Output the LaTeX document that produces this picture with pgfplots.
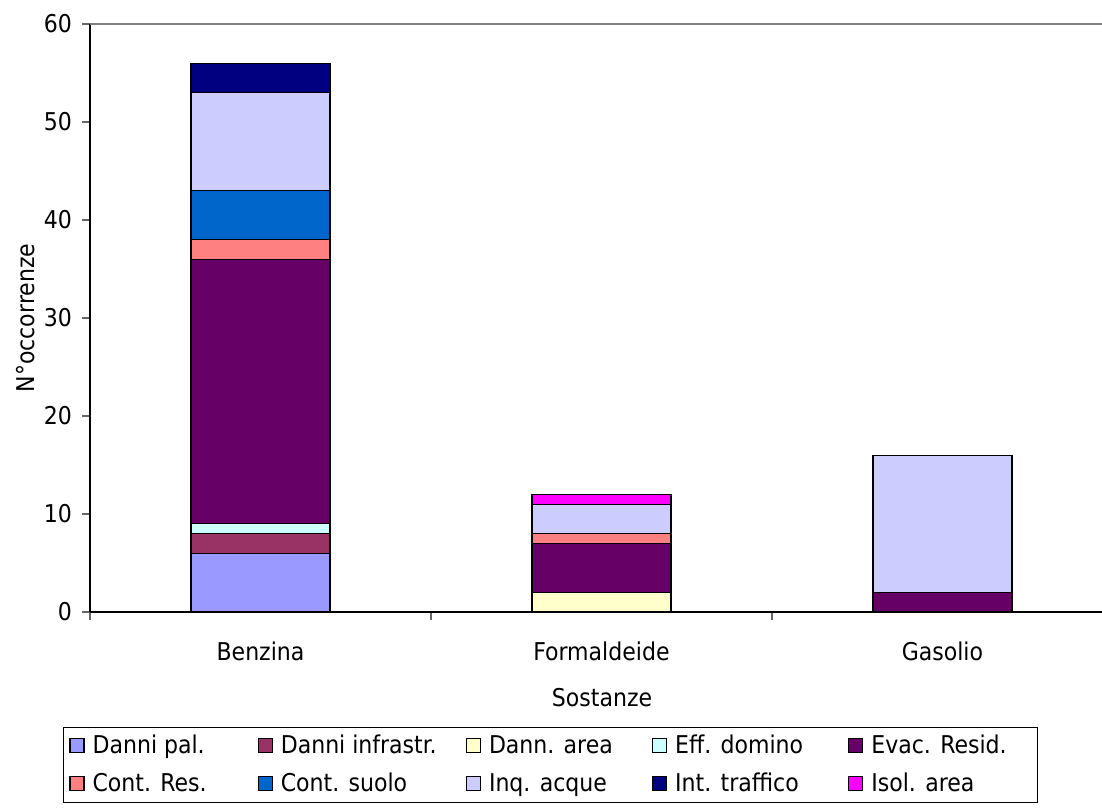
\documentclass[border=0pt]{standalone}
\usepackage{fontspec}
\setmainfont{DejaVu Sans Condensed}
\usepackage{pgfplots}
\pgfplotsset{compat=1.18}
\usepackage{pgfplotstable}

% Excel 2003 palette
\definecolor{cPal}{HTML}{9999FF}
\definecolor{cInfr}{HTML}{993366}
\definecolor{cArea}{HTML}{FFFFCC}
\definecolor{cDom}{HTML}{CCFFFF}
\definecolor{cEvac}{HTML}{660066}
\definecolor{cRes}{HTML}{FF8080}
\definecolor{cSuolo}{HTML}{0066CC}
\definecolor{cAcque}{HTML}{CCCCFF}
\definecolor{cTraff}{HTML}{000080}
\definecolor{cIsol}{HTML}{FF00FF}

% x: 0 Benzina, 1 Formaldeide, 2 Gasolio
\pgfplotstableread{
x pal infr area dom evac res suolo acque traff isol
0 6   2    0    1   27   2   5     10    3     0
1 0   0    2    0   5    1   0     3     0     1
2 0   0    0    0   2    0   0     14    0     0
}\occ

\begin{document}
\begin{tikzpicture}
\useasboundingbox (0,0) rectangle (1102bp,812bp);
\begin{axis}[
    at={(90bp,200bp)}, anchor=south west,
    scale only axis, width=1012bp, height=588bp,
    ybar stacked, bar width=139bp,
    xmin=-0.5, xmax=2.468, ymin=0, ymax=60,
    axis x line*=bottom, axis y line*=left,
    axis line style={-, black, line width=1.3bp},
    tick align=outside,
    major tick length=8bp,
    tick style={black!60, line width=1.2bp},
    ytick={0,10,...,60},
    xtick={-0.5,0.5,1.5}, xticklabels={},
    extra x ticks={0,1,2},
    extra x tick labels={Benzina,Formaldeide,Gasolio},
    extra x tick style={major tick length=0pt,
        xticklabel style={anchor=base, inner sep=0pt, yshift=-48bp}},
    extra y ticks={60}, extra y tick labels={},
    extra y tick style={grid=major, major tick length=0pt,
        major grid style={black!50, line width=1.4bp}},
    yticklabel style={anchor=east, inner sep=0pt, xshift=-10bp},
    /pgf/number format/assume math mode=true,
    font=\fontsize{24.5bp}{29bp}\selectfont,
    xlabel={Sostanze},
    xlabel style={at={(axis description cs:0.506,0)}, anchor=base, inner sep=0pt, yshift=-94bp},
    ylabel={N°occorrenze},
    ylabel style={at={(axis description cs:-0.0632,0.5)}, anchor=center, rotate=0},
    every axis plot post/.append style={
        legend image code/.code={
            \draw[##1, draw=black, line width=1.2bp] (0bp,1bp) rectangle (14bp,15bp);
            \path (22bp,0bp);}},
    legend columns=5,
    legend style={at={(axis description cs:0.9368,-0.1956)}, anchor=north east,
        draw=black, line width=1.2bp, inner xsep=6bp, inner ysep=8bp,
        column sep=0pt, row sep=17bp,
        nodes={inner sep=0pt, text height=18bp, text depth=3bp, anchor=base west},
        font=\fontsize{24.5bp}{29bp}\selectfont},
]
\addplot[fill=cPal, draw=black, line width=1.2bp] table[x=x, y=pal] {\occ};
\addlegendentry{\makebox[165bp][l]{Danni pal.}}
\addplot[fill=cInfr, draw=black, line width=1.2bp] table[x=x, y=infr] {\occ};
\addlegendentry{\makebox[185bp][l]{Danni infrastr.}}
\addplot[fill=cArea, draw=black, line width=1.2bp] table[x=x, y=area] {\occ};
\addlegendentry{\makebox[163bp][l]{Dann. area}}
\addplot[fill=cDom, draw=black, line width=1.2bp] table[x=x, y=dom] {\occ};
\addlegendentry{\makebox[173bp][l]{Eff. domino}}
\addplot[fill=cEvac, draw=black, line width=1.2bp] table[x=x, y=evac] {\occ};
\addlegendentry{\makebox[160bp][l]{Evac. Resid.}}
\addplot[fill=cRes, draw=black, line width=1.2bp] table[x=x, y=res] {\occ};
\addlegendentry{\makebox[165bp][l]{Cont. Res.}}
\addplot[fill=cSuolo, draw=black, line width=1.2bp] table[x=x, y=suolo] {\occ};
\addlegendentry{\makebox[185bp][l]{Cont. suolo}}
\addplot[fill=cAcque, draw=black, line width=1.2bp] table[x=x, y=acque] {\occ};
\addlegendentry{\makebox[163bp][l]{Inq. acque}}
\addplot[fill=cTraff, draw=black, line width=1.2bp] table[x=x, y=traff] {\occ};
\addlegendentry{\makebox[173bp][l]{Int. traffico}}
\addplot[fill=cIsol, draw=black, line width=1.2bp] table[x=x, y=isol] {\occ};
\addlegendentry{\makebox[160bp][l]{Isol. area}}
\end{axis}
\end{tikzpicture}
\end{document}
